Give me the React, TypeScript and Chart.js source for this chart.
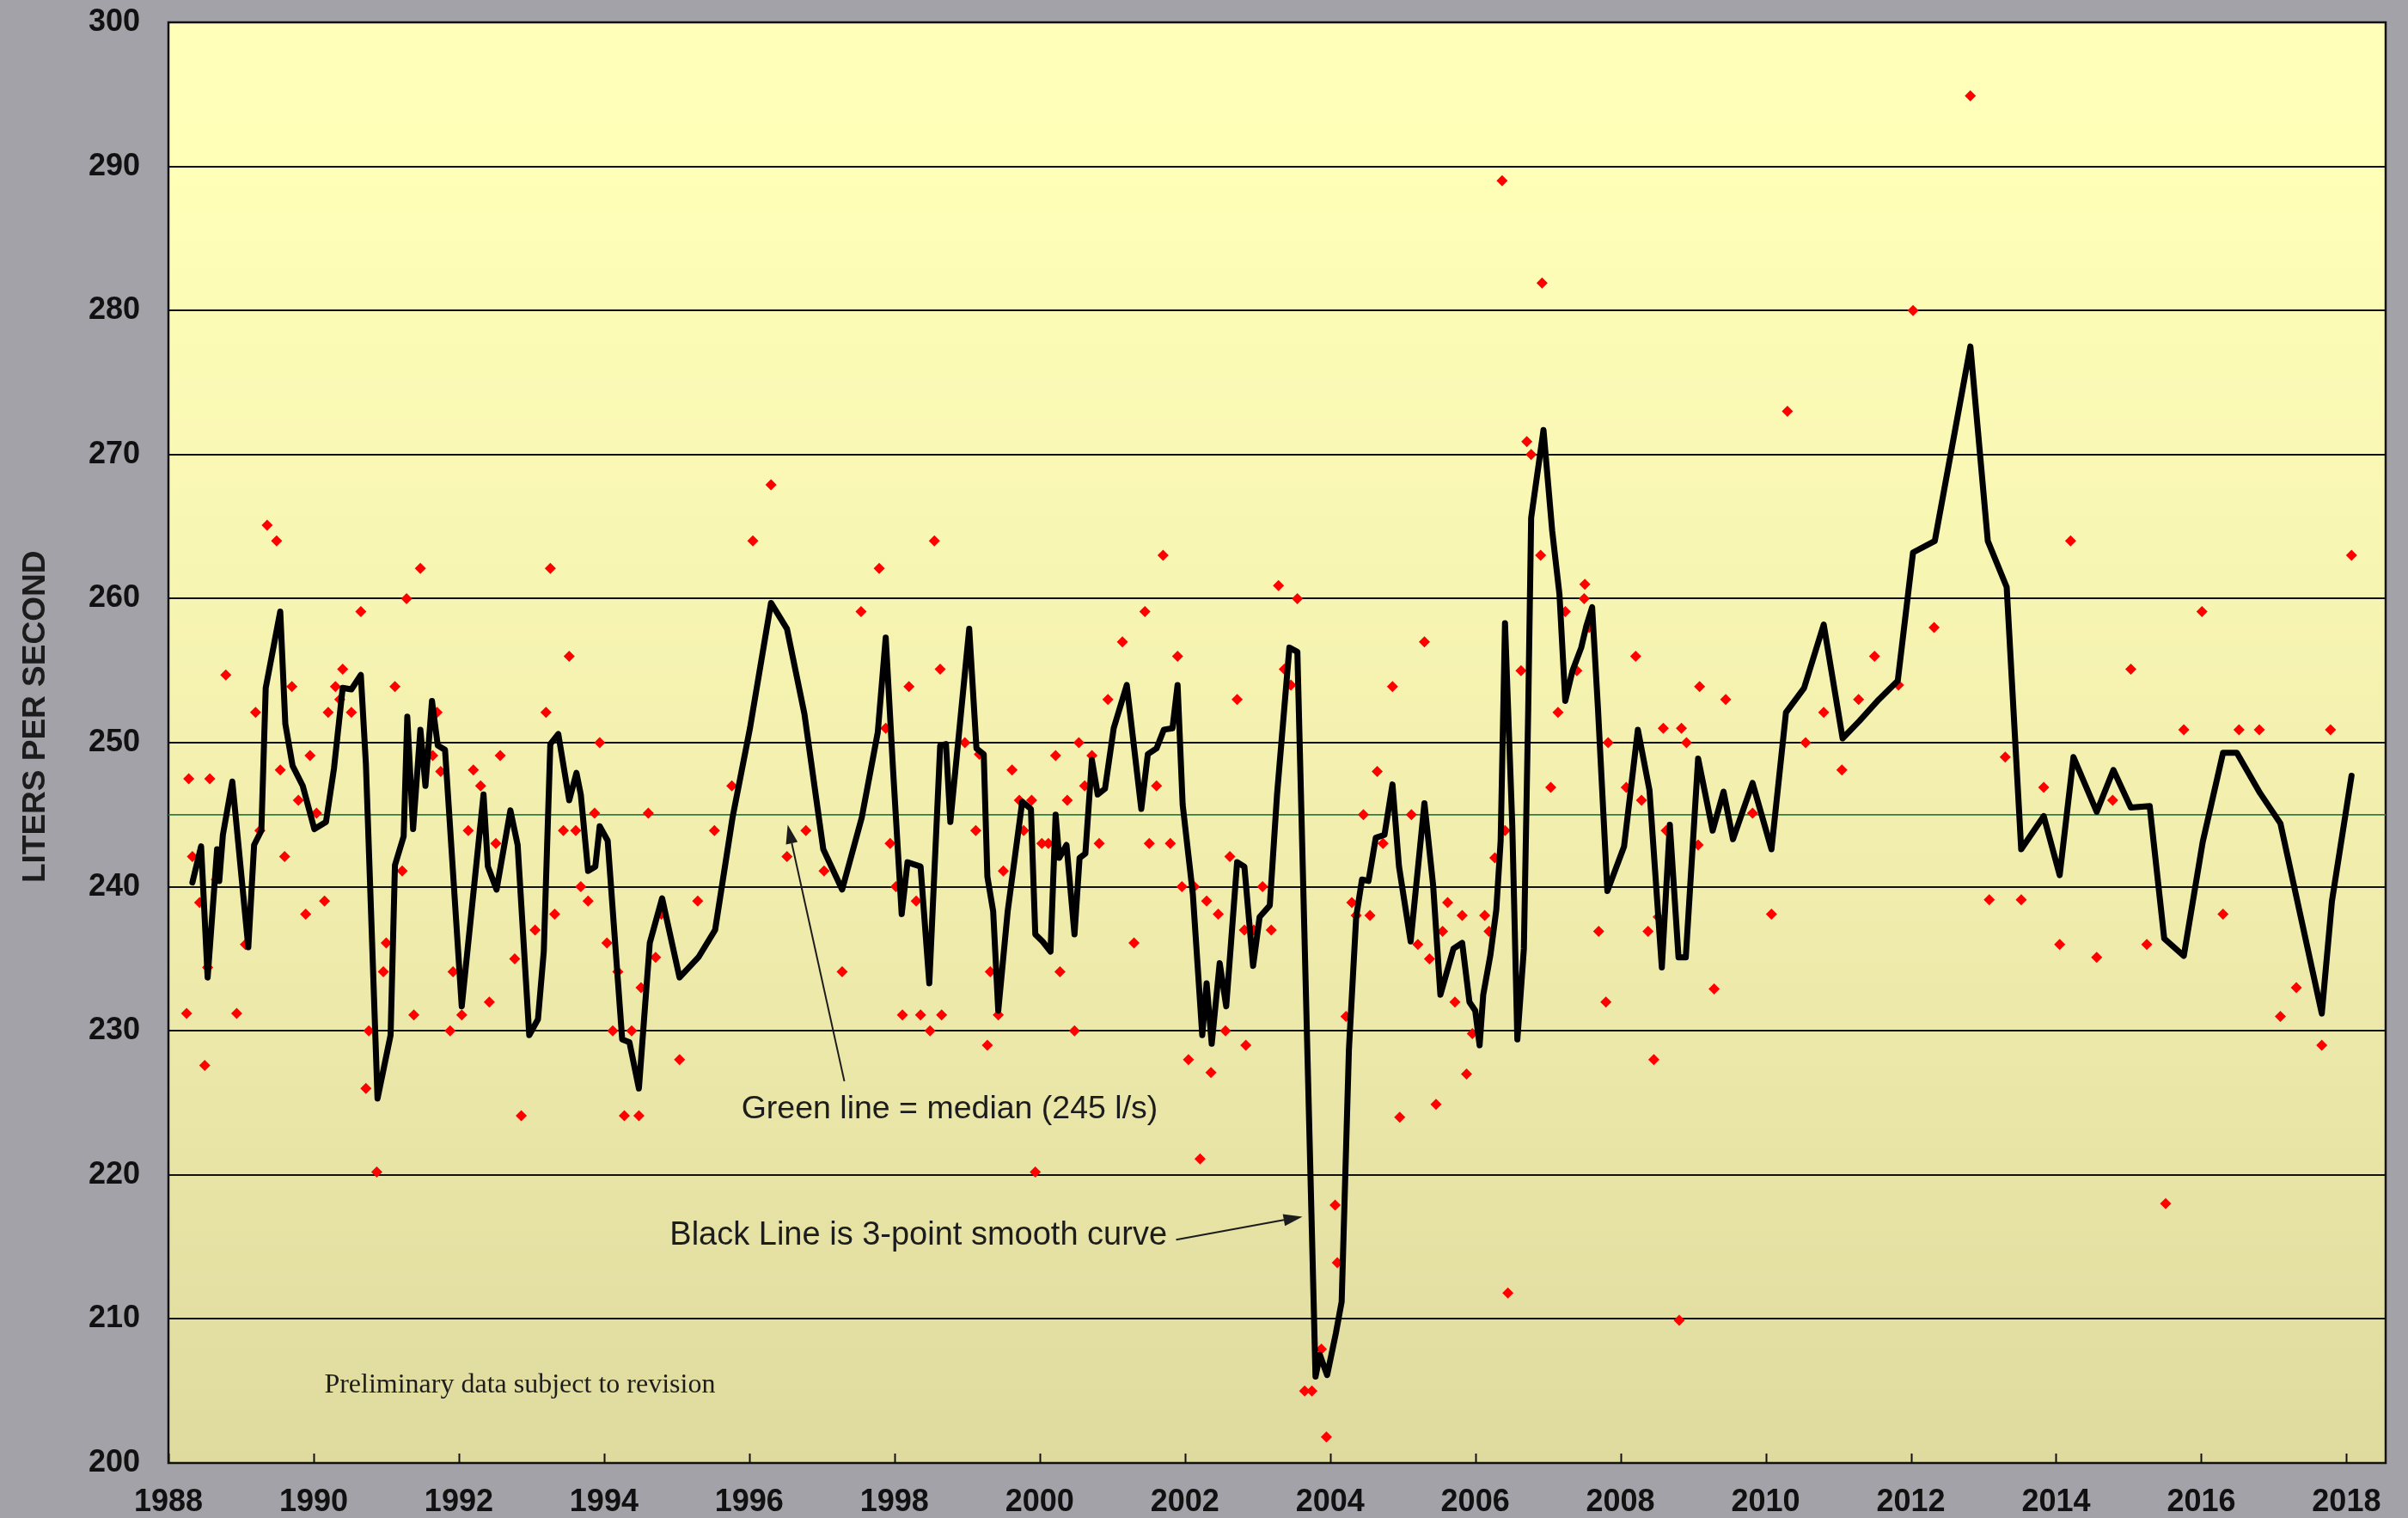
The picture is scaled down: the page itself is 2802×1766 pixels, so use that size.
import React, { useEffect, useRef } from 'react';
import { Chart, registerables } from 'chart.js';

Chart.register(...registerables);

// ---------- DATA ----------
const pointYears = [
  1988.25, 1988.28, 1988.33, 1988.43, 1988.5, 1988.54, 1988.57, 1988.66, 1988.79, 1988.94,
  1989.06, 1989.2, 1989.26, 1989.36, 1989.49, 1989.54, 1989.6, 1989.7, 1989.79, 1989.89,
  1989.95, 1990.04, 1990.15, 1990.2, 1990.3, 1990.36, 1990.4, 1990.52, 1990.65, 1990.72,
  1990.76, 1990.87, 1990.96, 1991.0, 1991.12, 1991.22, 1991.28, 1991.38, 1991.47, 1991.64,
  1991.7, 1991.75, 1991.88, 1991.92, 1992.04, 1992.13, 1992.2, 1992.3, 1992.32, 1992.42,
  1992.51, 1992.57, 1992.77, 1992.86, 1993.05, 1993.2, 1993.26, 1993.32, 1993.44, 1993.52,
  1993.61, 1993.68, 1993.78, 1993.87, 1993.94, 1994.04, 1994.12, 1994.19, 1994.28, 1994.38,
  1994.48, 1994.51, 1994.61, 1994.71, 1994.79, 1995.04, 1995.29, 1995.52, 1995.76, 1996.05,
  1996.3, 1996.52, 1996.78, 1997.03, 1997.28, 1997.54, 1997.79, 1997.88, 1997.94, 1998.02,
  1998.11, 1998.2, 1998.3, 1998.36, 1998.49, 1998.55, 1998.63, 1998.65, 1998.97, 1999.12,
  1999.17, 1999.28, 1999.32, 1999.43, 1999.5, 1999.62, 1999.72, 1999.78, 1999.89, 1999.94,
  2000.03, 2000.12, 2000.22, 2000.28, 2000.38, 2000.48, 2000.54, 2000.62, 2000.72, 2000.82,
  2000.94, 2001.14, 2001.3, 2001.45, 2001.51, 2001.61, 2001.7, 2001.8, 2001.9, 2001.96,
  2002.05, 2002.13, 2002.21, 2002.3, 2002.36, 2002.46, 2002.56, 2002.62, 2002.72, 2002.82,
  2002.84, 2002.95, 2003.07, 2003.19, 2003.29, 2003.37, 2003.46, 2003.55, 2003.65, 2003.75,
  2003.88, 2003.95, 2004.07, 2004.1, 2004.22, 2004.3, 2004.36, 2004.46, 2004.55, 2004.65,
  2004.73, 2004.86, 2004.96, 2005.12, 2005.21, 2005.3, 2005.37, 2005.46, 2005.55, 2005.62,
  2005.72, 2005.82, 2005.88, 2005.96, 2006.13, 2006.19, 2006.27, 2006.37, 2006.41, 2006.45,
  2006.63, 2006.71, 2006.77, 2006.9, 2006.92, 2007.04, 2007.14, 2007.24, 2007.4, 2007.5,
  2007.51, 2007.57, 2007.7, 2007.8, 2007.83, 2008.08, 2008.21, 2008.29, 2008.38, 2008.46,
  2008.52, 2008.59, 2008.63, 2008.81, 2008.84, 2008.91, 2009.07, 2009.09, 2009.29, 2009.45,
  2009.82, 2010.08, 2010.3, 2010.55, 2010.8, 2011.05, 2011.28, 2011.5, 2011.83, 2012.03,
  2012.32, 2012.82, 2013.08, 2013.3, 2013.52, 2013.83, 2014.05, 2014.2, 2014.56, 2014.78,
  2015.03, 2015.25, 2015.51, 2015.76, 2016.01, 2016.3, 2016.52, 2016.8, 2017.09, 2017.31,
  2017.66, 2017.78, 2018.07,
];

const pointFlows = [
  231.2, 247.5, 242.1, 238.9, 227.6, 234.4, 247.5, 240.5, 254.7, 231.2,
  236.0, 252.1, 243.9, 265.1, 264.0, 248.1, 242.1, 253.9, 246.0, 238.1,
  249.1, 245.1, 239.0, 252.1, 253.9, 253.0, 255.1, 252.1, 259.1, 226.0,
  230.0, 220.2, 234.1, 236.1, 253.9, 241.1, 260.0, 231.1, 262.1, 249.1,
  252.1, 248.0, 230.0, 234.1, 231.1, 243.9, 248.1, 247.0, 244.0, 232.0,
  243.0, 249.1, 235.0, 224.1, 237.0, 252.1, 262.1, 238.1, 243.9, 256.0,
  243.9, 240.0, 239.0, 245.1, 250.0, 236.1, 230.0, 234.1, 224.1, 230.0,
  224.1, 233.0, 245.1, 235.1, 238.1, 228.0, 239.0, 243.9, 247.0, 264.0,
  267.9, 242.1, 243.9, 241.1, 234.1, 259.1, 262.1, 251.0, 243.0, 240.0,
  231.1, 253.9, 239.0, 231.1, 230.0, 264.0, 255.1, 231.1, 250.0, 243.9,
  249.2, 229.0, 234.1, 231.1, 241.1, 248.1, 246.0, 243.9, 246.0, 220.2,
  243.0, 243.0, 249.1, 234.1, 246.0, 230.0, 250.0, 247.0, 249.1, 243.0,
  253.0, 257.0, 236.1, 259.1, 243.0, 247.0, 263.0, 243.0, 256.0, 240.0,
  228.0, 240.0, 221.1, 239.0, 227.1, 238.1, 230.0, 242.1, 253.0, 237.0,
  229.0, 237.0, 240.0, 237.0, 260.9, 255.1, 254.0, 260.0, 205.0, 205.0,
  207.9, 201.8, 217.9, 213.9, 231.0, 238.9, 238.0, 245.0, 238.0, 248.0,
  243.0, 253.9, 224.0, 245.0, 236.0, 257.0, 235.0, 224.9, 236.9, 238.9,
  232.0, 238.0, 227.0, 229.8, 238.0, 236.9, 242.0, 289.0, 243.9, 211.8,
  255.0, 270.9, 270.0, 263.0, 281.9, 246.9, 252.1, 259.1, 255.0, 260.0,
  261.0, 258.0, 236.9, 232.0, 250.0, 246.9, 256.0, 246.0, 236.9, 228.0,
  237.9, 251.0, 243.9, 209.9, 251.0, 250.0, 242.9, 253.9, 232.9, 253.0,
  245.1, 238.1, 273.0, 250.0, 252.1, 248.1, 253.0, 256.0, 254.0, 280.0,
  258.0, 294.9, 239.1, 249.0, 239.1, 246.9, 236.0, 264.0, 235.1, 246.0,
  255.1, 236.0, 218.0, 250.9, 259.1, 238.1, 250.9, 250.9, 231.0, 233.0,
  229.0, 250.9, 263.0,
];

const smoothYears = [
  1988.33, 1988.45, 1988.54, 1988.67, 1988.7, 1988.75, 1988.88, 1989.1, 1989.18, 1989.28,
  1989.34, 1989.54, 1989.61, 1989.71, 1989.85, 1990.01, 1990.17, 1990.28, 1990.4, 1990.52,
  1990.65, 1990.72, 1990.88, 1991.06, 1991.12, 1991.24, 1991.29, 1991.37, 1991.47, 1991.54,
  1991.63, 1991.71, 1991.81, 1992.04, 1992.34, 1992.4, 1992.52, 1992.71, 1992.81, 1992.97,
  1993.09, 1993.17, 1993.26, 1993.37, 1993.52, 1993.62, 1993.68, 1993.78, 1993.88, 1993.94,
  1994.05, 1994.25, 1994.35, 1994.48, 1994.63, 1994.8, 1995.04, 1995.3, 1995.53, 1995.77,
  1996.01, 1996.3, 1996.52, 1996.76, 1997.02, 1997.28, 1997.55, 1997.77, 1997.88, 1997.98,
  1998.1, 1998.18, 1998.36, 1998.48, 1998.63, 1998.71, 1998.77, 1999.03, 1999.13, 1999.23,
  1999.28, 1999.36, 1999.43, 1999.56, 1999.76, 1999.88, 1999.94, 2000.04, 2000.15, 2000.22,
  2000.27, 2000.37, 2000.48, 2000.55, 2000.63, 2000.72, 2000.8, 2000.9, 2001.02, 2001.2,
  2001.4, 2001.49, 2001.61, 2001.71, 2001.83, 2001.9, 2001.97, 2002.11, 2002.24, 2002.3,
  2002.37, 2002.48, 2002.57, 2002.72, 2002.82, 2002.94, 2003.03, 2003.17, 2003.27, 2003.44,
  2003.55, 2003.8, 2003.86, 2003.96, 2004.08, 2004.16, 2004.26, 2004.36, 2004.44, 2004.53,
  2004.63, 2004.75, 2004.86, 2004.95, 2005.11, 2005.3, 2005.42, 2005.52, 2005.7, 2005.82,
  2005.92, 2006.0, 2006.06, 2006.11, 2006.21, 2006.29, 2006.35, 2006.41, 2006.51, 2006.58,
  2006.67, 2006.73, 2006.77, 2006.94, 2007.06, 2007.16, 2007.24, 2007.34, 2007.46, 2007.53,
  2007.61, 2007.69, 2007.82, 2008.05, 2008.24, 2008.4, 2008.57, 2008.68, 2008.8, 2008.9,
  2009.07, 2009.27, 2009.42, 2009.55, 2009.82, 2010.08, 2010.28, 2010.53, 2010.8, 2011.06,
  2011.29, 2011.56, 2011.82, 2012.03, 2012.33, 2012.82, 2013.06, 2013.32, 2013.52, 2013.83,
  2014.05, 2014.24, 2014.56, 2014.79, 2015.03, 2015.29, 2015.49, 2015.76, 2016.02, 2016.3,
  2016.49, 2016.81, 2017.09, 2017.66, 2017.8, 2018.07,
];

const smoothFlows = [
  240.3, 242.8, 233.7, 242.6, 240.4, 243.6, 247.3, 235.8, 242.9, 243.9,
  253.8, 259.1, 251.3, 248.4, 247.0, 244.0, 244.5, 248.2, 253.8, 253.7,
  254.7, 248.5, 225.3, 229.7, 241.5, 243.5, 251.8, 244.0, 250.9, 247.0,
  252.9, 249.8, 249.5, 231.7, 246.4, 241.4, 239.8, 245.3, 242.9, 229.7,
  230.8, 235.5, 249.9, 250.6, 246.0, 247.9, 246.4, 241.1, 241.4, 244.2,
  243.2, 229.4, 229.2, 226.0, 236.1, 239.2, 233.7, 235.1, 237.0, 244.8,
  251.0, 259.7, 257.9, 252.0, 242.6, 239.8, 244.8, 250.7, 257.3, 248.2,
  238.1, 241.7, 241.4, 233.3, 249.8, 249.9, 244.5, 257.9, 249.6, 249.2,
  240.7, 238.3, 231.4, 238.3, 245.9, 245.4, 236.7, 236.2, 235.5, 245.0,
  242.0, 242.9, 236.7, 242.0, 242.3, 248.8, 246.4, 246.8, 251.0, 254.0,
  245.4, 249.2, 249.6, 250.9, 251.0, 254.0, 245.7, 239.5, 229.7, 233.3,
  229.1, 234.7, 231.7, 241.7, 241.4, 234.5, 237.9, 238.7, 246.4, 256.6,
  256.3, 206.0, 207.5, 206.1, 209.0, 211.2, 228.7, 237.9, 240.5, 240.4,
  243.4, 243.6, 247.1, 241.4, 236.2, 245.8, 240.1, 232.5, 235.7, 236.1,
  232.0, 231.4, 229.0, 232.5, 235.3, 238.4, 243.2, 258.3, 244.3, 229.4,
  235.7, 252.4, 265.6, 271.7, 264.7, 260.3, 252.9, 255.0, 256.6, 258.1,
  259.4, 252.4, 239.7, 242.8, 250.9, 246.7, 234.4, 244.3, 235.1, 235.1,
  248.9, 243.9, 246.6, 243.3, 247.2, 242.6, 252.1, 253.8, 258.2, 250.3,
  251.5, 253.0, 254.3, 263.2, 264.0, 277.5, 264.0, 260.8, 242.6, 244.9,
  240.8, 249.0, 245.2, 248.1, 245.5, 245.6, 236.4, 235.2, 243.1, 249.3,
  249.3, 246.5, 244.4, 231.2, 239.0, 247.7,
];

const medianYears = [1988, 2018.54];
const medianFlows = [245, 245];

const xTickYears = [1988, 1990, 1992, 1994, 1996, 1998, 2000, 2002, 2004, 2006, 2008, 2010, 2012, 2014, 2016, 2018];
const yAxisMin = 200;
const yAxisMax = 300;
const yAxisStep = 10;
const xAxisMin = 1988;
const xAxisMax = 2018.54;

const yTitle = 'LITERS PER SECOND';
const medianNote = 'Green line = median (245 l/s)';
const smoothNote = 'Black Line is 3-point smooth curve';
const prelimNote = 'Preliminary data subject to revision';

// ---------- STYLE / PLACEMENT ----------
const W = 2802;
const H = 1766;
const AREA_TOP = 26;
const LABEL_LEFT = 103;
const AREA_LEFT = 196;
const SANS = '"Liberation Sans", Arial, sans-serif';
const SERIF = '"Liberation Serif", "Times New Roman", serif';

function drawArrow(ctx: CanvasRenderingContext2D, x1: number, y1: number, x2: number, y2: number) {
  const ang = Math.atan2(y2 - y1, x2 - x1);
  const len = 22;
  const hw = 7;
  const bx = x2 - Math.cos(ang) * len;
  const by = y2 - Math.sin(ang) * len;
  ctx.beginPath();
  ctx.moveTo(x1, y1);
  ctx.lineTo(bx, by);
  ctx.stroke();
  ctx.beginPath();
  ctx.moveTo(x2, y2);
  ctx.lineTo(bx + Math.sin(ang) * hw, by - Math.cos(ang) * hw);
  ctx.lineTo(bx - Math.sin(ang) * hw, by + Math.cos(ang) * hw);
  ctx.closePath();
  ctx.fill();
}

const decorPlugin = {
  id: 'decor',
  beforeDraw(chart: any) {
    const { ctx, chartArea: a, width, height } = chart;
    ctx.save();
    ctx.fillStyle = '#a3a2a9';
    ctx.fillRect(0, 0, width, height);
    const g = ctx.createLinearGradient(0, a.top, 0, a.bottom);
    g.addColorStop(0, '#ffffbb');
    g.addColorStop(0.1, '#ffffb8');
    g.addColorStop(0.5, '#f4f1b0');
    g.addColorStop(1, '#dfdb9f');
    ctx.fillStyle = g;
    ctx.fillRect(a.left, a.top, a.right - a.left, a.bottom - a.top);
    ctx.restore();
  },
  beforeDatasetsDraw(chart: any) {
    const { ctx, chartArea: a, scales } = chart;
    ctx.save();
    ctx.strokeStyle = '#111';
    ctx.lineWidth = 2.5;
    ctx.strokeRect(a.left, a.top, a.right - a.left, a.bottom - a.top);
    ctx.lineWidth = 2;
    ctx.beginPath();
    for (const yr of xTickYears) {
      const x = Math.round(scales.x.getPixelForValue(yr)) + 0.5;
      ctx.moveTo(x, a.bottom);
      ctx.lineTo(x, a.bottom - 11);
    }
    ctx.stroke();
    ctx.restore();
  },
  afterDraw(chart: any) {
    const { ctx, scales } = chart;
    const px = (v: number) => scales.x.getPixelForValue(v);
    const py = (v: number) => scales.y.getPixelForValue(v);
    ctx.save();
    ctx.fillStyle = '#1c1c1c';
    ctx.strokeStyle = '#1c1c1c';
    ctx.lineWidth = 2;

    // y axis title
    ctx.save();
    ctx.translate(42, py(251.8));
    ctx.rotate(-Math.PI / 2);
    ctx.font = `bold 37px ${SANS}`;
    ctx.textAlign = 'center';
    ctx.textBaseline = 'middle';
    ctx.fillText(yTitle, 0, 0);
    ctx.restore();

    // notes
    ctx.font = `37.5px ${SANS}`;
    ctx.textAlign = 'center';
    ctx.textBaseline = 'alphabetic';
    ctx.fillText(medianNote, px(1998.76), py(223.9));
    ctx.font = `38px ${SANS}`;
    ctx.fillText(smoothNote, px(1998.33), py(215.15));
    ctx.font = `32px ${SERIF}`;
    ctx.fillText(prelimNote, px(1992.84), py(204.9));

    // arrows
    drawArrow(ctx, px(1997.31), py(226.5), px(1996.53), py(244.3));
    drawArrow(ctx, px(2001.88), py(215.5), px(2003.62), py(217.1));
    ctx.restore();
  },
};

export default function App() {
  const ref = useRef<HTMLCanvasElement | null>(null);

  useEffect(() => {
    if (!ref.current) return;
    const points = pointYears.map((x, i) => ({ x, y: pointFlows[i] }));
    const smooth = smoothYears.map((x, i) => ({ x, y: smoothFlows[i] }));
    const median = medianYears.map((x, i) => ({ x, y: medianFlows[i] }));

    const chart = new Chart(ref.current, {
      type: 'scatter',
      data: {
        datasets: [
          {
            type: 'line',
            label: 'Smooth',
            data: smooth,
            borderColor: '#000000',
            borderWidth: 7,
            borderJoinStyle: 'round',
            borderCapStyle: 'round',
            pointRadius: 0,
            tension: 0,
            fill: false,
            order: 0,
          },
          {
            type: 'scatter',
            label: 'Measured',
            data: points,
            pointStyle: 'rectRot',
            pointRadius: 6.5,
            backgroundColor: '#ff0000',
            borderColor: '#ff0000',
            borderWidth: 0,
            order: 1,
          },
          {
            type: 'line',
            label: 'Median',
            data: median,
            borderColor: '#2e7d4a',
            borderWidth: 1.8,
            pointRadius: 0,
            tension: 0,
            fill: false,
            order: 2,
          },
        ],
      } as any,
      options: {
        animation: false,
        responsive: false,
        devicePixelRatio: 1,
        events: [],
        layout: { padding: { left: LABEL_LEFT, top: AREA_TOP, right: 26, bottom: 0 } },
        plugins: {
          legend: { display: false },
          tooltip: { enabled: false },
          title: { display: false },
        },
        scales: {
          x: {
            type: 'linear',
            min: xAxisMin,
            max: xAxisMax,
            afterBuildTicks: (scale: any) => {
              scale.ticks = xTickYears.map((v) => ({ value: v }));
            },
            afterFit: (scale: any) => {
              scale.height = 64;
            },
            grid: { display: false, drawTicks: false },
            border: { display: false },
            ticks: {
              autoSkip: false,
              maxRotation: 0,
              minRotation: 0,
              padding: 24,
              color: '#111',
              font: { family: SANS, size: 36, weight: 'bold', lineHeight: 1.2 },
              callback: (v: any) => String(v),
            },
          },
          y: {
            type: 'linear',
            min: yAxisMin,
            max: yAxisMax,
            afterFit: (scale: any) => {
              scale.width = AREA_LEFT - LABEL_LEFT;
            },
            grid: { color: '#111', lineWidth: 2, drawTicks: false },
            border: { display: false },
            ticks: {
              stepSize: yAxisStep,
              padding: 0,
              crossAlign: 'far',
              color: '#111',
              font: { family: SANS, size: 36, weight: 'bold', lineHeight: 1 },
              callback: (v: any) => String(v),
            },
          },
        },
      } as any,
      plugins: [decorPlugin],
    });

    // nudge the top padding so the plot area starts where the reference's does
    for (let i = 0; i < 3; i++) {
      const diff = chart.chartArea.top - AREA_TOP;
      if (Math.abs(diff) < 0.5) break;
      const pad = (chart.options as any).layout.padding;
      pad.top = Math.max(0, pad.top - diff);
      chart.update();
    }

    return () => chart.destroy();
  }, []);

  return (
    <div style={{ position: 'absolute', left: 0, top: 0, width: W, height: H }}>
      <canvas ref={ref} width={W} height={H} style={{ display: 'block', width: W, height: H }} />
    </div>
  );
}
